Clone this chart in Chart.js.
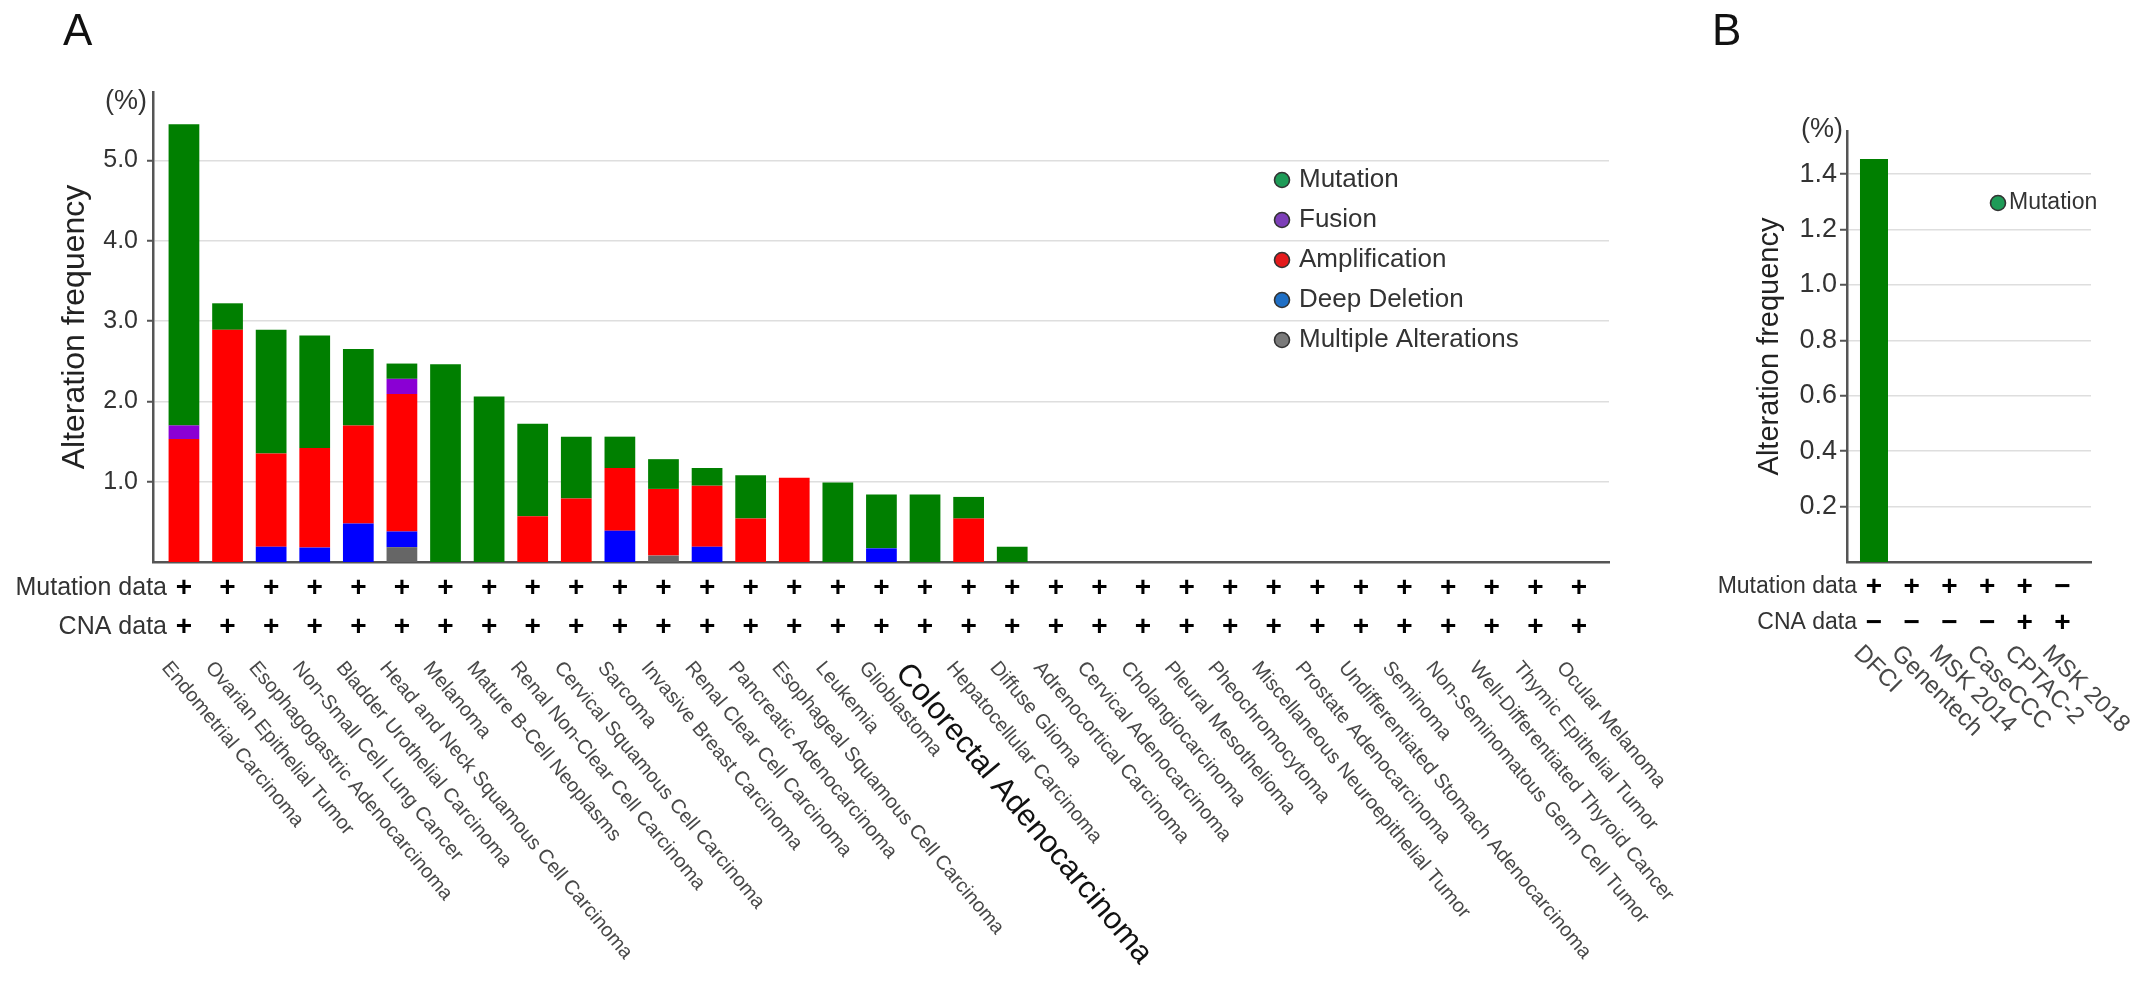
<!DOCTYPE html>
<html>
<head>
<meta charset="utf-8">
<script src="https://cdn.jsdelivr.net/npm/chart.js@4.4.1/dist/chart.umd.min.js"></script>
<style>
  html, body { margin: 0; padding: 0; background: #fff; }
  #wrap { position: relative; width: 2150px; height: 996px; }
  canvas { position: absolute; top: 0; }
</style>
</head>
<body>
<div id="wrap">
  <canvas id="chartA" width="1700" height="996" style="left:0"></canvas>
  <canvas id="chartB" width="450" height="996" style="left:1700px"></canvas>
</div>
<script>
'use strict'

// ---- panel A data (alteration frequency, %) ----
const cancerTypes = [
  'Endometrial Carcinoma', 'Ovarian Epithelial Tumor', 'Esophagogastric Adenocarcinoma',
  'Non-Small Cell Lung Cancer', 'Bladder Urothelial Carcinoma', 'Head and Neck Squamous Cell Carcinoma',
  'Melanoma', 'Mature B-Cell Neoplasms', 'Renal Non-Clear Cell Carcinoma',
  'Cervical Squamous Cell Carcinoma', 'Sarcoma', 'Invasive Breast Carcinoma',
  'Renal Clear Cell Carcinoma', 'Pancreatic Adenocarcinoma', 'Esophageal Squamous Cell Carcinoma',
  'Leukemia', 'Glioblastoma', 'Colorectal Adenocarcinoma', 'Hepatocellular Carcinoma',
  'Diffuse Glioma', 'Adrenocortical Carcinoma', 'Cervical Adenocarcinoma', 'Cholangiocarcinoma',
  'Pleural Mesothelioma', 'Pheochromocytoma', 'Miscellaneous Neuroepithelial Tumor',
  'Prostate Adenocarcinoma', 'Undifferentiated Stomach Adenocarcinoma', 'Seminoma',
  'Non-Seminomatous Germ Cell Tumor', 'Well-Differentiated Thyroid Cancer',
  'Thymic Epithelial Tumor', 'Ocular Melanoma'
];
const multipleA      = [0, 0, 0, 0, 0, 0.185, 0, 0, 0, 0, 0, 0.08, 0, 0, 0, 0, 0, 0, 0, 0, 0, 0, 0, 0, 0, 0, 0, 0, 0, 0, 0, 0, 0];
const deepDeletionA  = [0, 0, 0.19, 0.18, 0.48, 0.195, 0, 0, 0, 0, 0.39, 0, 0.19, 0, 0, 0, 0.17, 0, 0, 0, 0, 0, 0, 0, 0, 0, 0, 0, 0, 0, 0, 0, 0];
const amplificationA = [1.53, 2.89, 1.16, 1.24, 1.22, 1.71, 0, 0, 0.57, 0.79, 0.78, 0.83, 0.76, 0.54, 1.05, 0, 0, 0, 0.54, 0, 0, 0, 0, 0, 0, 0, 0, 0, 0, 0, 0, 0, 0];
const fusionA        = [0.17, 0, 0, 0, 0, 0.19, 0, 0, 0, 0, 0, 0, 0, 0, 0, 0, 0, 0, 0, 0, 0, 0, 0, 0, 0, 0, 0, 0, 0, 0, 0, 0, 0];
const mutationA      = [3.75, 0.33, 1.54, 1.40, 0.95, 0.19, 2.46, 2.06, 1.15, 0.77, 0.39, 0.37, 0.22, 0.54, 0, 0.99, 0.67, 0.84, 0.27, 0.19, 0, 0, 0, 0, 0, 0, 0, 0, 0, 0, 0, 0, 0];
const mutDataA = ['+', '+', '+', '+', '+', '+', '+', '+', '+', '+', '+', '+', '+', '+', '+', '+', '+', '+', '+', '+', '+', '+', '+', '+', '+', '+', '+', '+', '+', '+', '+', '+', '+'];
const cnaDataA = ['+', '+', '+', '+', '+', '+', '+', '+', '+', '+', '+', '+', '+', '+', '+', '+', '+', '+', '+', '+', '+', '+', '+', '+', '+', '+', '+', '+', '+', '+', '+', '+', '+'];
const yTicksA = [1, 2, 3, 4, 5];

// ---- panel B data ----
const studies = ['DFCI', 'Genentech', 'MSK 2014', 'CaseCCC', 'CPTAC-2', 'MSK 2018'];
const mutationB = [1.455, 0, 0, 0, 0, 0];
const mutDataB = ['+', '+', '+', '+', '+', '\u2212'];
const cnaDataB = ['\u2212', '\u2212', '\u2212', '\u2212', '+', '+'];
const yTicksB = [0.2, 0.4, 0.6, 0.8, 1.0, 1.2, 1.4];

const FONT = '"Liberation Sans", Arial, Helvetica, sans-serif';
Chart.defaults.font.family = FONT;
Chart.defaults.color = '#333';

const AXIS = '#555';
const GRID = '#dedede';

const toPoints = arr => arr.map((v, i) => ({ x: i, y: v }));

// extra texts under / around the plot: data rows, rotated names, legend
const extrasPlugin = (cfg) => ({
  id: 'extras',
  afterDraw(chart) {
    const ctx = chart.ctx;
    const xs = chart.scales.x;
    ctx.save();

    // panel letter
    ctx.fillStyle = '#111';
    ctx.font = '44px ' + FONT;
    ctx.textAlign = 'left';
    ctx.textBaseline = 'alphabetic';
    ctx.fillText(cfg.letter, cfg.letterX, 45);

    // (%) unit
    ctx.fillStyle = '#333';
    ctx.font = cfg.unitSize + 'px ' + FONT;
    ctx.textAlign = 'right';
    ctx.textBaseline = 'middle';
    ctx.fillText('(%)', cfg.unitX, cfg.unitY);

    // row labels
    ctx.font = cfg.rowSize + 'px ' + FONT;
    ctx.fillText('Mutation data', cfg.rowLabelX, cfg.rowY[0]);
    ctx.fillText('CNA data', cfg.rowLabelX, cfg.rowY[1]);

    // + / - marks
    ctx.fillStyle = '#000';
    ctx.font = 'bold 28px ' + FONT;
    ctx.textAlign = 'center';
    cfg.labels.forEach((lab, i) => {
      const x = xs.getPixelForValue(i);
      ctx.fillText(cfg.rows[0][i], x, cfg.rowY[0]);
      ctx.fillText(cfg.rows[1][i], x, cfg.rowY[1]);
    });

    // rotated category names
    cfg.labels.forEach((lab, i) => {
      const x = xs.getPixelForValue(i);
      const big = i === cfg.highlight;
      ctx.save();
      ctx.translate(x + (big ? -12 : cfg.labelDx), cfg.labelY);
      ctx.rotate(cfg.angle * Math.PI / 180);
      ctx.fillStyle = big ? '#111' : '#484848';
      ctx.font = (big ? 31 : cfg.labelSize) + 'px ' + FONT;
      ctx.textAlign = 'left';
      ctx.textBaseline = 'top';
      ctx.fillText(lab, 0, 0);
      ctx.restore();
    });

    // legend
    ctx.textAlign = 'left';
    ctx.textBaseline = 'middle';
    ctx.font = cfg.legend.size + 'px ' + FONT;
    cfg.legend.items.forEach((it, k) => {
      const y = cfg.legend.y + k * 40;
      ctx.beginPath();
      ctx.arc(cfg.legend.x, y, 7.5, 0, Math.PI * 2);
      ctx.fillStyle = it.color;
      ctx.fill();
      ctx.lineWidth = 1.6;
      ctx.strokeStyle = '#333';
      ctx.stroke();
      ctx.fillStyle = '#333';
      ctx.fillText(it.text, cfg.legend.x + cfg.legend.gap, y);
    });
    ctx.restore();
  }
});

const yAxis = (max, step, ticks, tickSize, tickLen, tickPad, titleSize, titlePad, width) => ({
  stacked: true,
  min: 0,
  max: max,
  afterFit: s => { s.width = width; },
  afterBuildTicks: s => { s.ticks = ticks.map(v => ({ value: v })); },
  ticks: {
    stepSize: step,
    includeBounds: false,
    padding: tickPad,
    color: '#333',
    font: { size: tickSize },
    callback: v => v.toFixed(1)
  },
  grid: {
    color: GRID,
    lineWidth: 1.5,
    borderDash: [10, 7],
    drawTicks: true,
    tickLength: tickLen,
    tickColor: AXIS,
    tickWidth: 2,
    tickBorderDash: []
  },
  border: { display: true, color: AXIS, width: 2.5 },
  title: {
    display: true,
    text: 'Alteration frequency',
    color: '#222',
    font: { size: titleSize },
    padding: { top: titlePad, bottom: 0 }
  }
});

const xAxis = (min, max) => ({
  type: 'linear',
  stacked: true,
  offset: false,
  min: min,
  max: max,
  afterFit: s => { s.height = 434; },
  ticks: { display: false },
  grid: { display: false, drawTicks: false, offset: false },
  border: { display: true, color: AXIS, width: 2.5 }
});

const barSet = (label, data, color, pct) => ({
  label: label,
  data: toPoints(data),
  backgroundColor: color,
  borderWidth: 0,
  categoryPercentage: 1,
  barPercentage: pct
});

new Chart(document.getElementById('chartA'), {
  type: 'bar',
  data: {
    datasets: [
      barSet('Multiple Alterations', multipleA, '#666666', 0.705),
      barSet('Deep Deletion', deepDeletionA, '#0000ff', 0.705),
      barSet('Amplification', amplificationA, '#ff0000', 0.705),
      barSet('Fusion', fusionA, '#8a00d4', 0.705),
      barSet('Mutation', mutationA, '#007f00', 0.705)
    ]
  },
  options: {
    responsive: false,
    animation: false,
    events: [],
    layout: { padding: { left: 0, top: 92, right: 91, bottom: 0 } },
    plugins: { legend: { display: false }, tooltip: { enabled: false } },
    scales: {
      x: xAxis(-0.71, 32.69),
      y: yAxis(5.85, 1, yTicksA, 25, 6, 9, 32, 56, 153)
    }
  },
  plugins: [extrasPlugin({
    letter: 'A', letterX: 63,
    unitSize: 27, unitX: 147, unitY: 102,
    rowSize: 25, rowLabelX: 167, rowY: [588, 627],
    rows: [mutDataA, cnaDataA],
    labels: cancerTypes, highlight: 17,
    labelDx: -11, labelY: 658, angle: 50, labelSize: 20,
    legend: {
      x: 1282, y: 180, gap: 17, size: 26,
      items: [
        { text: 'Mutation', color: '#1e9b57' },
        { text: 'Fusion', color: '#7d3fb8' },
        { text: 'Amplification', color: '#e41a1c' },
        { text: 'Deep Deletion', color: '#1f6fc5' },
        { text: 'Multiple Alterations', color: '#7a7a7a' }
      ]
    }
  })]
});

new Chart(document.getElementById('chartB'), {
  type: 'bar',
  data: {
    datasets: [
      barSet('Mutation', mutationB, '#007f00', 0.743)
    ]
  },
  options: {
    responsive: false,
    animation: false,
    events: [],
    layout: { padding: { left: 0, top: 131, right: 59, bottom: 0 } },
    plugins: { legend: { display: false }, tooltip: { enabled: false } },
    scales: {
      x: xAxis(-0.716, 5.756),
      y: yAxis(1.556, 0.2, yTicksB, 27, 7, 3, 29, 53, 147)
    }
  },
  plugins: [extrasPlugin({
    letter: 'B', letterX: 12,
    unitSize: 27, unitX: 143, unitY: 130,
    rowSize: 23, rowLabelX: 157, rowY: [587, 623],
    rows: [mutDataB, cnaDataB],
    labels: studies, highlight: -1,
    labelDx: -8, labelY: 641, angle: 45, labelSize: 24,
    legend: {
      x: 298, y: 203, gap: 11, size: 23,
      items: [{ text: 'Mutation', color: '#1e9b57' }]
    }
  })]
});
</script>
</body>
</html>
